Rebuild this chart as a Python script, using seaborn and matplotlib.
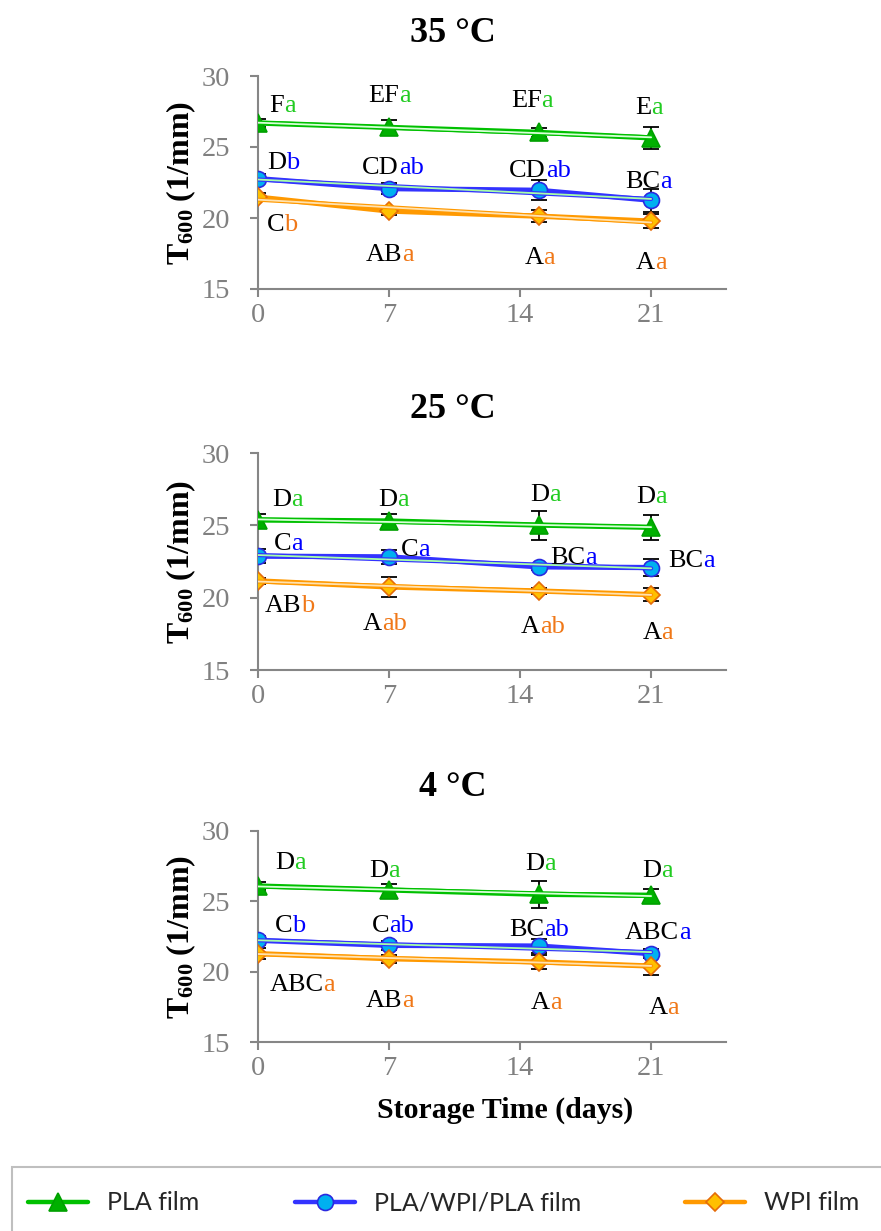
import numpy as np
import pandas as pd
import matplotlib
matplotlib.use("Agg")
import matplotlib.pyplot as plt
import matplotlib.patheffects as pe
from matplotlib.patches import Rectangle
from matplotlib.lines import Line2D
import seaborn as sns

# ---------------- data ----------------
days = [0, 7, 15, 21]
x_ticks = [0, 7, 14, 21]
y_ticks = [15, 20, 25, 30]
films = ["PLA film", "PLA/WPI/PLA film", "WPI film"]
panel_titles = ["35 \u00b0C", "25 \u00b0C", "4 \u00b0C"]

# mean T600 (1/mm)
pla_35 = [26.69, 26.38, 26.03, 25.64]
tri_35 = [22.77, 22.07, 21.95, 21.25]
wpi_35 = [21.47, 20.49, 20.13, 19.78]
pla_25 = [25.37, 25.30, 25.02, 24.86]
tri_25 = [22.87, 22.82, 22.13, 22.08]
wpi_25 = [21.16, 20.74, 20.46, 20.21]
pla_4 = [26.09, 25.81, 25.50, 25.43]
tri_4 = [22.23, 21.87, 21.82, 21.28]
wpi_4 = [21.28, 20.92, 20.69, 20.40]

# standard deviations
pla_35_sd = [0.30, 0.55, 0.30, 0.80]
tri_35_sd = [0.30, 0.40, 0.70, 0.80]
wpi_35_sd = [0.30, 0.30, 0.40, 0.50]
pla_25_sd = [0.42, 0.49, 1.00, 0.84]
tri_25_sd = [0.50, 0.50, 0.20, 0.60]
wpi_25_sd = [0.20, 0.70, 0.20, 0.45]
pla_4_sd = [0.25, 0.40, 0.95, 0.45]
tri_4_sd = [0.30, 0.30, 0.47, 0.30]
wpi_4_sd = [0.40, 0.30, 0.52, 0.64]

# significance letters: upper case (across all) + lower case (within film)
pla_35_up = ["F", "EF", "EF", "E"]
pla_35_lo = ["a", "a", "a", "a"]
tri_35_up = ["D", "CD", "CD", "BC"]
tri_35_lo = ["b", "ab", "ab", "a"]
wpi_35_up = ["C", "AB", "A", "A"]
wpi_35_lo = ["b", "a", "a", "a"]
pla_25_up = ["D", "D", "D", "D"]
pla_25_lo = ["a", "a", "a", "a"]
tri_25_up = ["C", "C", "BC", "BC"]
tri_25_lo = ["a", "a", "a", "a"]
wpi_25_up = ["AB", "A", "A", "A"]
wpi_25_lo = ["b", "ab", "ab", "a"]
pla_4_up = ["D", "D", "D", "D"]
pla_4_lo = ["a", "a", "a", "a"]
tri_4_up = ["C", "C", "BC", "ABC"]
tri_4_lo = ["b", "ab", "ab", "a"]
wpi_4_up = ["ABC", "AB", "A", "A"]
wpi_4_lo = ["a", "a", "a", "a"]

# ---------------- layout (label anchor offsets, data units) ----------------
lab_off = {
    ("35", 0): [(1.39, 1.33), (0.53, 2.34), (0.15, 2.38), (0.0, 2.26)],
    ("35", 1): [(1.49, 1.28), (0.53, 1.63), (0.37, 1.52), (0.5, 1.45)],
    ("35", 2): [(1.39, -1.81), (0.71, -2.92), (0.24, -2.83), (0.19, -2.83)],
    ("25", 0): [(1.77, 1.51), (0.43, 1.58), (0.56, 2.2), (0.2, 2.24)],
    ("25", 1): [(1.77, 1.0), (1.55, 0.65), (2.47, 0.74), (2.8, 0.62)],
    ("25", 2): [(2.32, -1.62), (-0.38, -2.43), (0.05, -2.33), (0.56, -2.48)],
    ("4", 0): [(1.91, 1.78), (-0.04, 1.51), (0.3, 2.3), (0.56, 1.89)],
    ("4", 1): [(1.82, 1.18), (0.0, 1.54), (0.3, 1.31), (1.5, 1.62)],
    ("4", 2): [(3.5, -2.06), (0.71, -2.84), (0.61, -2.78), (0.88, -2.84)],
}

# ---------------- styles ----------------
line_col = ["#00C000", "#3333FF", "#FF9900"]
face_col = ["#00B000", "#00B0F0", "#FFC000"]
edge_col = ["#00A000", "#2A2AE0", "#E46C0A"]
trend_col = ["#D8FFD8", "#A8FFA8", "#FFE2B0"]
letter_col = ["#22CC22", "#0000FF", "#F07818"]
markers = ["^", "o", "D"]
msizes = [13.5, 11.5, 9.5]
axis_grey = "#868686"
tick_grey = "#808080"

sns.set_theme(style="ticks")
plt.rcParams["font.family"] = ["Liberation Serif", "DejaVu Serif"]
plt.rcParams["mathtext.fontset"] = "custom"
plt.rcParams["mathtext.rm"] = "Liberation Serif"
plt.rcParams["mathtext.bf"] = "Liberation Serif:bold"

fig = plt.figure(figsize=(8.81, 12.31), dpi=100)
W, H = 881, 1231

def px_axes(left, top, right, bottom):
    return fig.add_axes([left / W, 1 - bottom / H, (right - left) / W, (bottom - top) / H])

panel_px = [(258, 76, 726, 289), (258, 453, 726, 670), (258, 831, 726, 1042)]
title_y = [33, 410, 787]

panels = [
    ("35", [pla_35, tri_35, wpi_35], [pla_35_sd, tri_35_sd, wpi_35_sd],
     [(pla_35_up, pla_35_lo), (tri_35_up, tri_35_lo), (wpi_35_up, wpi_35_lo)]),
    ("25", [pla_25, tri_25, wpi_25], [pla_25_sd, tri_25_sd, wpi_25_sd],
     [(pla_25_up, pla_25_lo), (tri_25_up, tri_25_lo), (wpi_25_up, wpi_25_lo)]),
    ("4", [pla_4, tri_4, wpi_4], [pla_4_sd, tri_4_sd, wpi_4_sd],
     [(pla_4_up, pla_4_lo), (tri_4_up, tri_4_lo), (wpi_4_up, wpi_4_lo)]),
]

for p, (key, means, sds, letters) in enumerate(panels):
    ax = px_axes(*panel_px[p])
    df = pd.DataFrame({
        "day": days * 3,
        "t600": means[0] + means[1] + means[2],
        "film": sum([[f] * len(days) for f in films], []),
    })
    for i, film in enumerate(films):
        sub = df[df["film"] == film]
        # error bars beneath the markers
        ax.errorbar(sub["day"], sub["t600"], yerr=sds[i], fmt="none",
                    ecolor="black", elinewidth=1.3, capsize=5.5, capthick=1.3, zorder=2)
        sns.lineplot(data=sub, x="day", y="t600", ax=ax, color=line_col[i], lw=3.8,
                     marker=markers[i], markersize=msizes[i],
                     markerfacecolor=face_col[i], markeredgecolor=edge_col[i],
                     markeredgewidth=1.2, legend=False, zorder=3, errorbar=None)
        # linear trend line
        coef = np.polyfit(sub["day"], sub["t600"], 1)
        xs = np.array([days[0], days[-1]])
        ax.plot(xs, np.polyval(coef, xs), color=trend_col[i], lw=1.3, zorder=4,
                path_effects=[pe.Stroke(linewidth=3.0, foreground=line_col[i]), pe.Normal()])
        # significance letters: black group letters followed by coloured film letters
        ups, los = letters[i]
        for j, d in enumerate(days):
            dx, dy = lab_off[(key, i)][j]
            y = means[i][j] + dy
            t = ax.annotate(ups[j], xy=(d + dx, y), xytext=(0, -5.8), textcoords="offset points",
                            ha="right", va="baseline", fontsize=19, color="black",
                            annotation_clip=False, zorder=6)
            ax.annotate(los[j], xy=(1, 0), xycoords=t, ha="left", va="bottom",
                        fontsize=19, color=letter_col[i], annotation_clip=False, zorder=6)

    ax.set_xlim(0, 25)
    ax.set_ylim(15, 30)
    ax.set_xticks(x_ticks)
    ax.set_yticks(y_ticks)
    ax.set_facecolor("white")
    for s in ["top", "right"]:
        ax.spines[s].set_visible(False)
    for s in ["left", "bottom"]:
        ax.spines[s].set_color(axis_grey)
        ax.spines[s].set_linewidth(1.5)
    ax.tick_params(axis="both", colors=axis_grey, labelcolor=tick_grey, labelsize=20.5,
                   length=6, width=1.5, direction="out")
    ax.tick_params(axis="y", pad=14)
    ax.tick_params(axis="x", pad=4)
    ax.set_xlabel("")
    ax.set_ylabel(r"$\mathbf{T_{600}}$ (1/mm)", fontsize=23, fontweight="bold", color="black")
    ax.yaxis.set_label_coords(-0.128, 0.5)

    fig.text(453 / W, 1 - title_y[p] / H, panel_titles[p], ha="center", va="center",
             fontsize=26, fontweight="bold", color="black")

fig.text(505 / W, 1 - 1110 / H, "Storage Time (days)", ha="center", va="center",
         fontsize=21.5, fontweight="bold", color="black")

# legend frame and entries
fig.patches.append(Rectangle((12 / W, -0.01), 0.99, 1 - 1167 / H + 0.01,
                             transform=fig.transFigure, fill=False,
                             edgecolor="#BFBFBF", lw=1.5, zorder=0))
legend_x = [28, 295, 685]
for i in range(3):
    h = Line2D([0], [0], color=line_col[i], lw=3.2, marker=markers[i], markersize=msizes[i],
               markerfacecolor=face_col[i], markeredgecolor=edge_col[i], markeredgewidth=1.2)
    fig.legend([h], [films[i]], loc="center left", bbox_to_anchor=(legend_x[i] / W, 1 - 1203 / H),
               frameon=False, handlelength=2.4, handletextpad=0.75, borderpad=0,
               borderaxespad=0, prop={"family": "Lato", "size": 18})

fig.savefig("out.png", dpi=100, facecolor="white")
